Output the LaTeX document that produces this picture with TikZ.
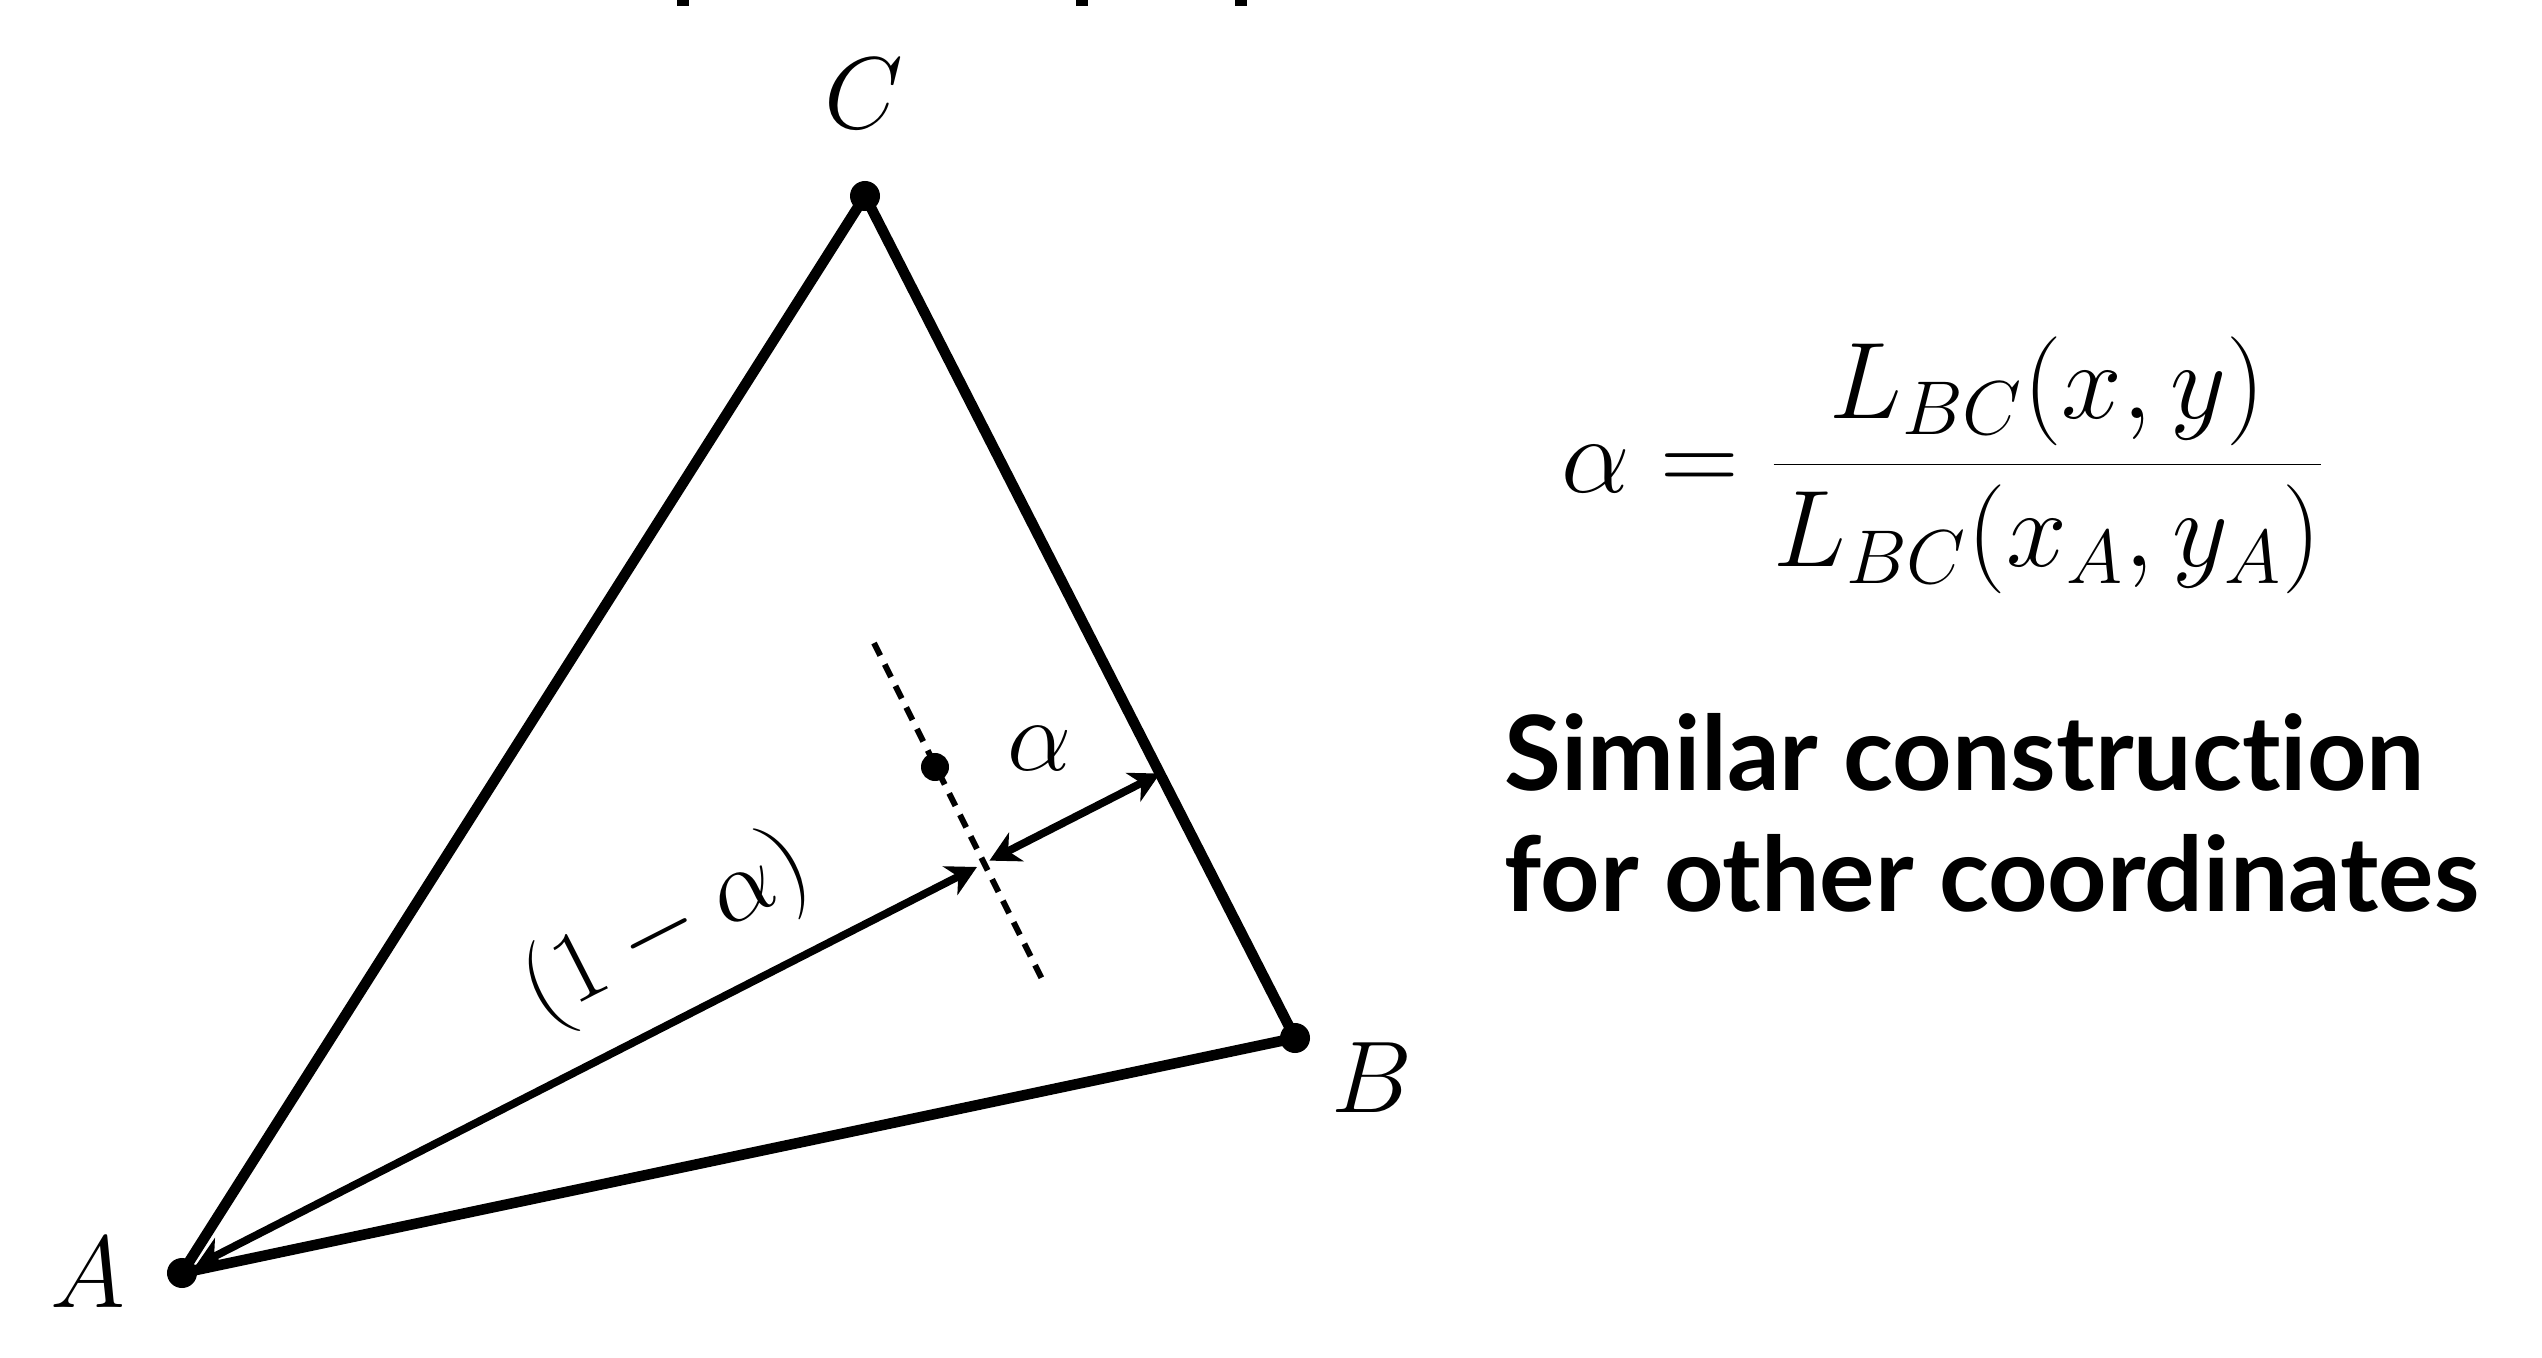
\RequirePackage{fix-cm}
\documentclass[tikz,border=0pt]{standalone}
\usepackage{fontspec}
\newfontfamily\labelsans{Lato}[Ligatures={NoCommon}]
\usetikzlibrary{arrows.meta,calc}
\begin{document}
\begin{tikzpicture}[x=0.01cm,y=-0.01cm,
  edge/.style={line width=3pt, line join=round, line cap=round},
  dimarrow/.style={line width=2.2pt, {Stealth[length=0.3cm,width=0.32cm,inset=0.09cm]}-{Stealth[length=0.3cm,width=0.32cm,inset=0.09cm]}},
  guide/.style={line width=1.7pt, dash pattern=on 0.14cm off 0.1cm},
  pt/.style={circle, fill, inner sep=0pt, minimum size=0.3cm},
  mlabel/.style={inner sep=0pt, font=\fontsize{29}{35}\selectfont},
  sanstext/.style={inner sep=0pt, anchor=base west, font=\labelsans\bfseries\fontsize{29.5}{35}\selectfont}]
\useasboundingbox (0,0) rectangle (2542,1358);
% cropped remnants at the top edge
\fill (677,0) rectangle (689,6);
\fill (1076,0) rectangle (1088,6);
\fill (1235,0) rectangle (1247,6);
% vertices
\coordinate (A) at (182,1273);
\coordinate (B) at (1295,1038);
\coordinate (C) at (865,196);
\coordinate (F) at ($(C)!(A)!(B)$);
\coordinate (P) at ($(A)!0.822!(F)$);
\coordinate (Q) at (935,767);
\coordinate (D1) at (874,643);
\coordinate (D2) at (1045,985);
% triangle
\draw[edge] (A) -- (C) -- (B) -- cycle;
% guide line
\draw[guide] (D1) -- (D2);
% arrows
\draw[dimarrow, shorten <=0.15cm, shorten >=0.1cm] (A) -- (P);
\draw[dimarrow, shorten <=0.04cm] (P) -- (F);
% dots
\node[pt] (pA) at (A) {};
\node[pt] (pB) at (B) {};
\node[pt] (pC) at (C) {};
\node[pt, minimum size=0.28cm] (pQ) at (Q) {};
% labels
\node[mlabel] (lC) at (864,94) {$C$};
\node[mlabel] (lB) at (1372,1078) {$B$};
\node[mlabel] (lA) at (88,1273) {$A$};
\node[mlabel] (la) at (1040,749) {$\alpha$};
\node[mlabel, rotate=27] (l1a) at (667,930) {$(1-\alpha)$};
\node[mlabel, anchor=base west, font=\fontsize{31}{37}\selectfont] (eq) at (1561,492) {$\displaystyle\alpha = \frac{L_{BC}(x,y)}{L_{BC}(x_A,y_A)}$};
\node[sanstext] (s1) at (1504,790) {Similar construction};
\node[sanstext] (s2) at (1504,911) {for other coordinates};
\end{tikzpicture}
\end{document}
